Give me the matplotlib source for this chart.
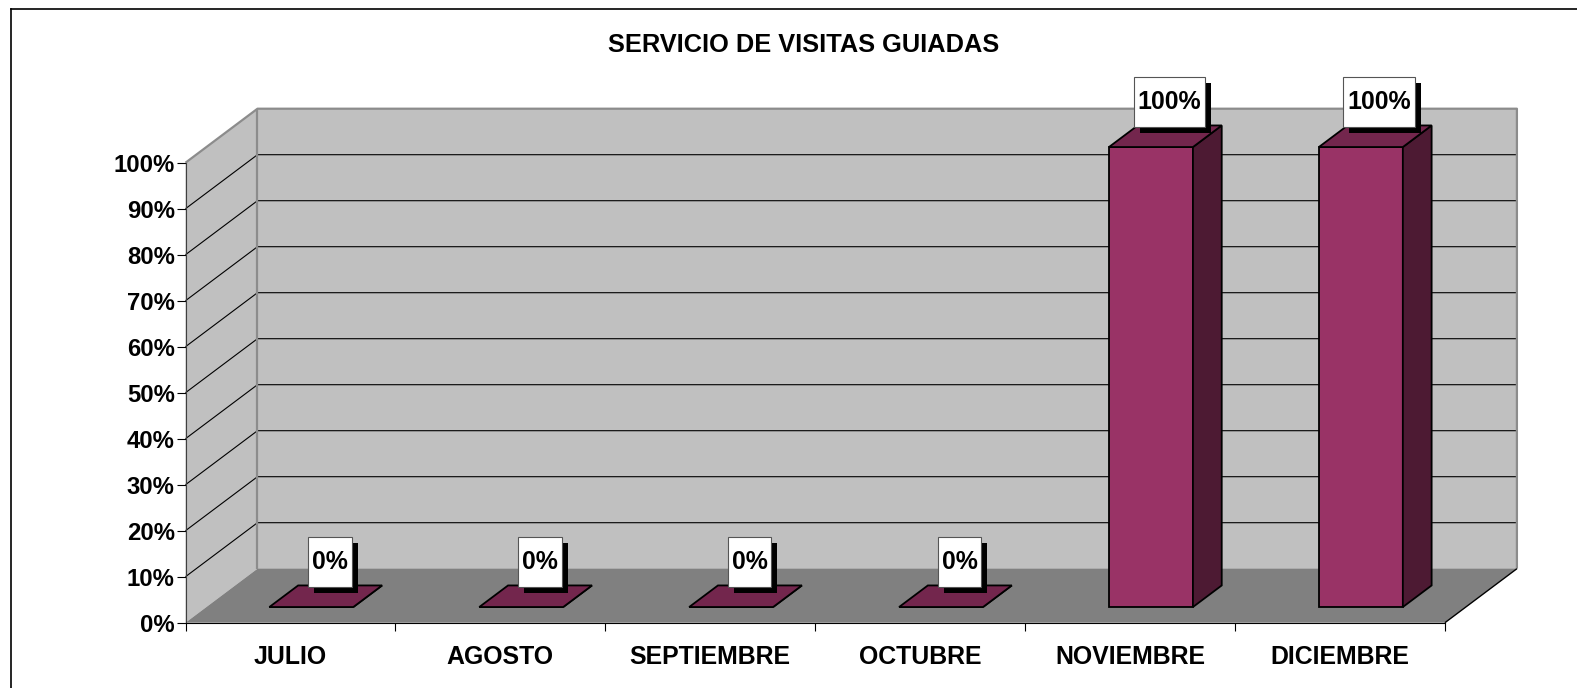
import matplotlib
matplotlib.use("Agg")
import matplotlib.pyplot as plt
import matplotlib.transforms as mtransforms
from matplotlib.patches import Polygon, Rectangle
from matplotlib.lines import Line2D
from matplotlib.ticker import PercentFormatter

plt.rcParams["font.family"] = ["Liberation Sans", "DejaVu Sans"]
plt.rcParams["font.weight"] = "bold"

TITLE = "SERVICIO DE VISITAS GUIADAS"
MONTHS = ["JULIO", "AGOSTO", "SEPTIEMBRE", "OCTUBRE", "NOVIEMBRE", "DICIEMBRE"]
VALUES = [0, 0, 0, 0, 100, 100]
Y_TICKS = [0, 10, 20, 30, 40, 50, 60, 70, 80, 90, 100]

# fake-3D (oblique) projection: depth 0 = front, 1 = back wall
DX, DY = 0.343, 11.74
BAR_HALF = 0.2
D_FRONT, D_BACK = 0.29, 0.69

WALL = "#C0C0C0"
FLOOR = "#808080"
EDGE = "#8C8C8C"
FRONT = "#993366"
TOP = "#73264D"
SIDE = "#4D1A33"


def proj(x, y, d):
    return (x + d * DX, y + d * DY)


def poly(ax, pts, fc, ec="none", lw=0, z=1):
    ax.add_patch(Polygon(pts, closed=True, facecolor=fc, edgecolor=ec,
                         linewidth=lw, zorder=z, clip_on=False,
                         joinstyle="miter"))


def line(ax, pts, color, lw, z=2):
    xs, ys = zip(*pts)
    ax.plot(xs, ys, color=color, lw=lw, zorder=z, clip_on=False,
            solid_capstyle="butt")


fig = plt.figure(figsize=(15.77, 6.88), dpi=100)
ax = fig.add_axes([0.11763, 0.09491, 0.84427, 0.74709])
n = len(MONTHS)
ymax = Y_TICKS[-1]
ax.set_xlim(0, n + DX)
ax.set_ylim(0, ymax + DY)
ax.patch.set_visible(False)

# walls and floor
poly(ax, [proj(0, 0, 0), proj(0, 0, 1), proj(0, ymax, 1), proj(0, ymax, 0)], WALL)
poly(ax, [proj(0, 0, 1), proj(n, 0, 1), proj(n, ymax, 1), proj(0, ymax, 1)], WALL)
poly(ax, [proj(0, 0, 0), proj(n, 0, 0), proj(n, 0, 1), proj(0, 0, 1)], FLOOR)

for t in Y_TICKS[1:-1]:
    line(ax, [proj(0, t, 0), proj(0, t, 1), proj(n, t, 1)], "black", 0.8)

line(ax, [proj(0, ymax, 0), proj(0, ymax, 1), proj(n, ymax, 1), proj(n, 0, 1)],
     EDGE, 1.6)
line(ax, [proj(0, 0, 1), proj(0, ymax, 1)], EDGE, 1.6)
line(ax, [proj(n, 0, 0), proj(n, 0, 1)], "black", 1.0)

# bars
for i, v in enumerate(VALUES):
    x0, x1 = i + 0.5 - BAR_HALF, i + 0.5 + BAR_HALF
    poly(ax, [proj(x0, 0, D_FRONT), proj(x1, 0, D_FRONT),
              proj(x1, v, D_FRONT), proj(x0, v, D_FRONT)],
         FRONT, "black", 1.3, z=5)
    poly(ax, [proj(x1, 0, D_FRONT), proj(x1, 0, D_BACK),
              proj(x1, v, D_BACK), proj(x1, v, D_FRONT)],
         SIDE, "black", 1.3, z=5)
    poly(ax, [proj(x0, v, D_FRONT), proj(x1, v, D_FRONT),
              proj(x1, v, D_BACK), proj(x0, v, D_BACK)],
         TOP, "black", 1.3, z=6)

# axes, ticks, labels
for s in ("top", "right"):
    ax.spines[s].set_visible(False)
ax.spines["left"].set_bounds(0, ymax)
ax.spines["left"].set_color("#404040")
ax.spines["bottom"].set_bounds(0, n)
ax.spines["left"].set_zorder(3)
ax.spines["bottom"].set_zorder(3)
ax.set_yticks(Y_TICKS)
ax.yaxis.set_major_formatter(PercentFormatter(decimals=0))
ax.tick_params(axis="y", direction="out", length=6.5, width=0.8,
               labelsize=17.2, pad=1.2)
ax.set_xticks(range(n + 1))
ax.set_xticklabels([])
ax.set_xticks([i + 0.5 for i in range(n)], minor=True)
ax.set_xticklabels(MONTHS, minor=True)
ax.tick_params(axis="x", which="major", direction="out", length=5.5, width=0.8)
ax.tick_params(axis="x", which="minor", length=0, labelsize=17.9, pad=16)

fig.text(804 / 1577, 1 - 45 / 688, TITLE, ha="center", va="center",
         fontsize=18.3, fontweight="bold")

# data labels: white box with black drop shadow
renderer = fig.canvas.get_renderer()
box_h = 0.50
for i, v in enumerate(VALUES):
    px, py = proj(i + 0.5, v, (D_FRONT + D_BACK) / 2)
    tr = fig.dpi_scale_trans + mtransforms.ScaledTranslation(px, py, ax.transData)
    cx, by = 0.04, 0.09
    t = ax.text(cx, by + box_h / 2, f"{v:.0f}%", transform=tr, ha="center",
                va="center", fontsize=17.9, fontweight="bold", zorder=12,
                clip_on=False)
    w = t.get_window_extent(renderer).width / fig.dpi + 0.08
    ax.add_patch(Rectangle((cx - w / 2 + 0.06, by - 0.06), w, box_h,
                           transform=tr, facecolor="black", edgecolor="none",
                           zorder=10, clip_on=False))
    ax.add_patch(Rectangle((cx - w / 2, by), w, box_h, transform=tr,
                           facecolor="white", edgecolor="#555555", lw=0.8,
                           zorder=11, clip_on=False))

# chart-area border (left and top visible in the crop)
fig.add_artist(Line2D([11 / 1577, 11 / 1577], [0, 1 - 9 / 688],
                      color="black", lw=1.2))
fig.add_artist(Line2D([11 / 1577, 1], [1 - 9 / 688, 1 - 9 / 688],
                      color="black", lw=1.2))

fig.savefig("out.png", dpi=100)
